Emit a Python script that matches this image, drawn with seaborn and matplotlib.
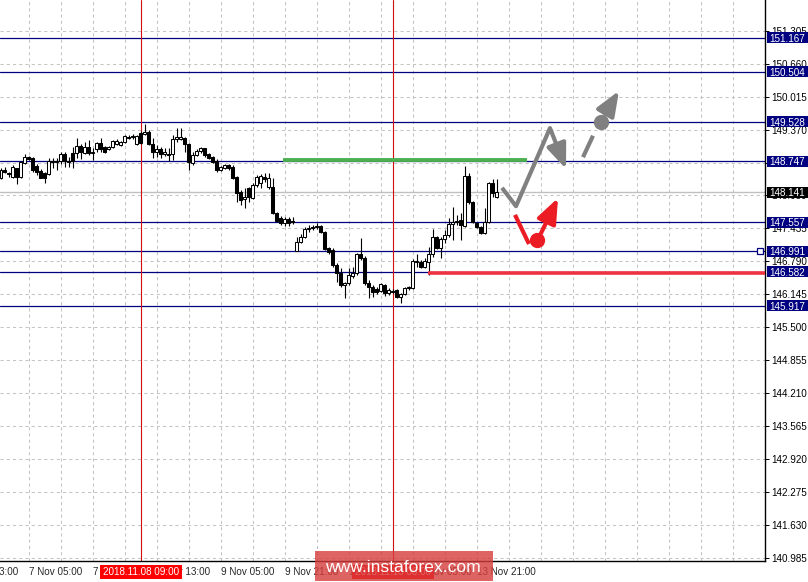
import numpy as np
import pandas as pd
import matplotlib
matplotlib.use("Agg")
import matplotlib.pyplot as plt
import matplotlib.transforms as mtransforms
from matplotlib.patches import Rectangle
import seaborn as sns

# ---------------------------------------------------------------
# H1 candles
# ---------------------------------------------------------------
opens = [148.42, 148.58, 148.52, 148.44, 148.62, 148.44, 148.72, 148.83, 148.81, 148.66,
         148.56, 148.52, 148.50, 148.75, 148.74, 148.75, 148.89, 148.75, 148.91, 148.91,
         149.05, 148.91, 149.03, 148.91, 148.99, 149.11, 149.03, 148.99, 149.03, 149.09,
         149.07, 149.13, 149.23, 149.23, 149.09, 149.30, 149.29, 149.32, 149.09, 148.93,
         148.99, 148.89, 148.89, 148.89, 149.19, 149.19, 149.21, 149.09, 148.72, 148.87,
         148.95, 149.01, 148.89, 148.83, 148.75, 148.58, 148.62, 148.68, 148.64, 148.44,
         148.15, 148.01, 148.23, 148.03, 148.29, 148.32, 148.44, 148.25, 148.25, 147.74,
         147.64, 147.54, 147.62, 147.58, 146.99, 147.17, 147.27, 147.42, 147.44, 147.46,
         147.48, 147.36, 147.05, 147.01, 146.72, 146.56, 146.33, 146.37, 146.50, 146.56,
         146.93, 146.86, 146.37, 146.29, 146.25, 146.21, 146.33, 146.17, 146.21, 146.23,
         146.09, 146.15, 146.27, 146.27, 146.78, 146.78, 146.68, 146.78, 146.93, 147.27,
         147.05, 147.23, 147.31, 147.52, 147.56, 147.60, 147.48, 148.46, 147.95, 147.54,
         147.46, 147.35, 147.56, 148.32, 148.05]
highs = [148.62, 148.64, 148.54, 148.68, 148.62, 148.75, 148.89, 148.85, 148.83, 148.70,
         148.60, 148.54, 148.81, 148.81, 148.81, 148.93, 148.93, 148.83, 149.03, 149.21,
         149.09, 149.13, 149.17, 149.01, 149.13, 149.21, 149.05, 149.05, 149.17, 149.19,
         149.15, 149.27, 149.27, 149.29, 149.27, 149.34, 149.48, 149.36, 149.21, 149.07,
         149.03, 149.01, 149.01, 149.27, 149.40, 149.40, 149.23, 149.11, 148.93, 148.99,
         149.03, 149.01, 148.91, 148.85, 148.79, 148.66, 148.70, 148.70, 148.68, 148.46,
         148.19, 148.23, 148.25, 148.32, 148.48, 148.50, 148.52, 148.52, 148.42, 147.76,
         147.68, 147.66, 147.66, 147.66, 147.27, 147.33, 147.46, 147.50, 147.50, 147.54,
         147.50, 147.38, 147.07, 147.05, 146.76, 146.66, 146.39, 146.66, 146.68, 146.95,
         147.25, 146.89, 146.42, 146.33, 146.29, 146.37, 146.35, 146.27, 146.25, 146.25,
         146.17, 146.29, 146.31, 146.84, 146.93, 146.82, 146.86, 147.07, 147.42, 147.29,
         147.27, 147.40, 147.64, 147.85, 147.70, 147.74, 148.66, 148.52, 147.97, 147.56,
         147.48, 147.84, 148.34, 148.40, 148.40]
lows = [148.40, 148.52, 148.44, 148.42, 148.31, 148.42, 148.70, 148.77, 148.54, 148.48,
        148.42, 148.32, 148.48, 148.62, 148.58, 148.70, 148.64, 148.64, 148.62, 148.81,
        148.79, 148.89, 148.87, 148.77, 148.93, 148.93, 148.91, 148.97, 149.01, 149.07,
        149.05, 149.11, 149.19, 149.19, 149.07, 149.09, 149.27, 149.07, 148.81, 148.83,
        148.81, 148.85, 148.75, 148.77, 149.13, 149.17, 148.93, 148.58, 148.68, 148.85,
        148.91, 148.83, 148.79, 148.72, 148.54, 148.56, 148.60, 148.58, 148.40, 147.95,
        147.89, 147.84, 147.95, 148.01, 148.25, 148.23, 148.34, 148.21, 147.72, 147.56,
        147.50, 147.48, 147.48, 147.52, 146.99, 147.15, 147.25, 147.36, 147.40, 147.42,
        147.35, 147.01, 146.93, 146.68, 146.39, 146.29, 146.07, 146.33, 146.46, 146.52,
        146.82, 146.33, 146.07, 146.09, 146.15, 146.19, 146.11, 146.13, 146.17, 146.07,
        145.97, 146.13, 146.23, 146.25, 146.68, 146.66, 146.66, 146.52, 146.88, 147.03,
        146.86, 147.15, 147.27, 147.21, 147.50, 147.21, 147.46, 147.91, 147.54, 147.44,
        147.33, 147.33, 147.54, 148.05, 148.03]
closes = [148.58, 148.54, 148.50, 148.64, 148.44, 148.74, 148.83, 148.79, 148.58, 148.54,
          148.42, 148.42, 148.75, 148.74, 148.75, 148.89, 148.75, 148.74, 148.75, 149.05,
          148.93, 149.03, 148.91, 148.93, 149.11, 148.99, 148.93, 149.03, 149.15, 149.15,
          149.13, 149.25, 149.21, 149.25, 149.25, 149.11, 149.32, 149.09, 148.93, 148.99,
          148.89, 148.93, 148.87, 149.19, 149.23, 149.23, 149.09, 148.74, 148.87, 148.95,
          149.01, 148.87, 148.81, 148.74, 148.58, 148.64, 148.68, 148.62, 148.42, 148.13,
          147.99, 148.05, 148.05, 148.29, 148.44, 148.46, 148.40, 148.42, 147.74, 147.58,
          147.54, 147.62, 147.54, 147.56, 147.17, 147.27, 147.42, 147.44, 147.46, 147.48,
          147.36, 147.03, 146.97, 146.72, 146.56, 146.33, 146.37, 146.52, 146.56, 146.93,
          146.86, 146.37, 146.29, 146.19, 146.19, 146.35, 146.17, 146.23, 146.19, 146.09,
          146.15, 146.27, 146.29, 146.80, 146.80, 146.68, 146.80, 146.93, 147.27, 147.05,
          147.23, 147.31, 147.52, 147.56, 147.58, 147.50, 148.46, 147.95, 147.56, 147.46,
          147.35, 147.56, 148.32, 148.13, 148.14]

# time axis labels (bar index -> text)
label_bars = [-9, 7, 23, 39, 55, 71, 87, 103, 119]
label_texts = ["6 Nov 13:00", "7 Nov 05:00", "7 Nov 21:00", "8 Nov 13:00", "9 Nov 05:00",
               "9 Nov 21:00", "12 Nov 13:00", "13 Nov 05:00", "13 Nov 21:00"]

# red period separators with their date boxes
sep_bars = [35, 98]
sep_texts = ["2018.11.08 09:00", "2018.11.13 00:00"]

# price scale
y_ticks = [140.985 + 0.645 * k for k in range(17)]

# horizontal levels
levels = [151.167, 150.504, 149.528, 148.747, 147.557, 146.991, 146.582, 145.917]
last_price = 148.141

# target / stop zones
green_level, green_start, green_end = 148.77, 70.5, 131.5
red_level, red_start = 146.57, 106.75

# forecast sketch
gray_path_x = [125.25, 128.75, 137.25]
gray_path_y = [148.23, 147.87, 149.40]
gray_tip = (141.25, 148.60)
gray_dash_x = [145.5, 148.0]
gray_dash_y = [148.83, 149.25]
gray_dot = (150.0, 149.52)
gray_up = [(151.0, 149.68), (154.5, 150.13)]
red_path_x = [128.5, 132.0]
red_path_y = [147.70, 147.13]
red_dot = (134.0, 147.21)
red_up = [(135.0, 147.34), (139.25, 148.03)]

NAVY = "#000080"
GRAY = "#808080"
RED = "#ec1c24"
FS = 7.1

sns.set_style("white")
plt.rcParams["font.family"] = ["Liberation Sans", "DejaVu Sans"]

df = pd.DataFrame({"open": opens, "high": highs, "low": lows, "close": closes})
df["bar"] = np.arange(len(df))
df["up"] = df["close"] >= df["open"]

fig = plt.figure(figsize=(8.08, 5.82), dpi=100)
ax = fig.add_axes([0, 21.3 / 582, 765 / 808, 560.7 / 582])
ax.set_xlim(-0.25, 191)
ax.set_ylim(140.926, 151.909)

# grid
ax.set_xticks(label_bars[1:])
ax.set_xticks(np.arange(7, 191, 8), minor=True)
ax.set_yticks(y_ticks)
ax.set_yticklabels(["{:.3f}".format(v) for v in y_ticks])
ax.grid(True, which="both", color="#c4c4c4", lw=0.75, ls=(0, (3, 3)), zorder=0)
ax.set_axisbelow(True)

ax.yaxis.tick_right()
ax.tick_params(axis="y", length=3, width=0.7, pad=1.5, labelsize=FS, colors="black")
ax.tick_params(axis="x", which="major", length=2, width=0.7, pad=2.5, labelsize=FS)
ax.tick_params(axis="x", which="minor", length=0)
ax.set_xticklabels(label_texts[1:])
for lbl in ax.get_xticklabels():
    lbl.set_ha("left")
# first label falls left of the view
ax.text(label_bars[0], -0.012, label_texts[0], fontsize=FS, ha="left", va="top",
        transform=mtransforms.blended_transform_factory(ax.transData, ax.transAxes),
        clip_on=False)

for side in ["left", "top"]:
    ax.spines[side].set_visible(False)
for side in ["right", "bottom"]:
    ax.spines[side].set_color("black")
    ax.spines[side].set_linewidth(1.0)

# levels
ax.axhline(last_price, color="#c0c0c0", lw=1.0, zorder=1)
for lv in levels:
    ax.axhline(lv, color=NAVY, lw=0.9, zorder=1.5)

# separators
for b in sep_bars:
    ax.axvline(b, color="#d01010", lw=0.8, zorder=1.6)

# candles
ax.vlines(df["bar"], df["low"], df["high"], color="black", lw=0.8, zorder=3)
ax.bar(df["bar"], (df["close"] - df["open"]).abs(),
       bottom=df[["open", "close"]].min(axis=1), width=0.75,
       color=np.where(df["up"], "white", "black"), edgecolor="black",
       linewidth=0.75, zorder=3.5)

# zones
ax.hlines(green_level, green_start, green_end, color="#4caf50", lw=2.8, zorder=4)
ax.hlines(red_level, red_start, 191, color="#ee3340", lw=2.6, zorder=4)

# forecast sketch
head = "-|>,head_length=1.5,head_width=0.6"
ax.plot(gray_path_x, gray_path_y, color=GRAY, lw=3, zorder=5, solid_capstyle="butt")
ax.annotate("", xy=gray_tip, xytext=(gray_path_x[-1], gray_path_y[-1]),
            arrowprops=dict(arrowstyle=head, color=GRAY, lw=3, shrinkA=0, shrinkB=0),
            zorder=5)
ax.plot(gray_dash_x, gray_dash_y, color=GRAY, lw=3, zorder=5, solid_capstyle="butt")
ax.plot(*gray_dot, "o", color=GRAY, ms=10, zorder=5)
ax.annotate("", xy=gray_up[1], xytext=gray_up[0],
            arrowprops=dict(arrowstyle=head, color=GRAY, lw=3, shrinkA=0, shrinkB=0),
            zorder=5)

ax.plot(red_path_x, red_path_y, color=RED, lw=3, zorder=5, solid_capstyle="butt")
ax.plot(*red_dot, "o", color=RED, ms=10, zorder=5)
ax.annotate("", xy=red_up[1], xytext=red_up[0],
            arrowprops=dict(arrowstyle=head, color=RED, lw=3, shrinkA=0, shrinkB=0),
            zorder=5)

# price labels on the right scale
ytrans = mtransforms.blended_transform_factory(ax.transAxes, ax.transData)
px = 0.019588  # price per pixel
for lv, fc in [(v, NAVY) for v in levels] + [(last_price, "black")]:
    ax.add_patch(Rectangle((1 + 1.7 / 765, lv - 5.5 * px), 0.06, 11 * px, transform=ytrans,
                           facecolor=fc, edgecolor="none", clip_on=False, zorder=6))
    ax.text(1 + 4 / 765, lv, "{:.3f}".format(lv), transform=ytrans, color="white",
            fontsize=FS, ha="left", va="center_baseline", clip_on=False, zorder=7)
ax.plot([1 - 5 / 765], [levels[5]], marker="s", ms=4.5, mfc="white", mec=NAVY, mew=0.9,
        transform=ytrans, clip_on=False, zorder=6)

# separator date boxes
xtrans = mtransforms.blended_transform_factory(ax.transData, ax.transAxes)
for b, t in zip(sep_bars, sep_texts):
    ax.add_patch(Rectangle((b - 10.2, -0.032), 20.4, 0.0245, transform=xtrans,
                           facecolor="red", edgecolor="none", clip_on=False, zorder=6))
    ax.text(b, -0.0195, t, transform=xtrans, color="white", fontsize=FS,
            ha="center", va="center", clip_on=False, zorder=7)

# watermark
fig.add_artist(Rectangle((315 / 808, 1 - 581 / 582), 178 / 808, 30 / 582,
                         transform=fig.transFigure, facecolor="#d63d3d", alpha=0.8,
                         edgecolor="none", zorder=10))
fig.text(403 / 808, 1 - 567 / 582, "www.instaforex.com", color="white", fontsize=12.6,
         ha="center", va="center", zorder=11)

fig.savefig("out.png", dpi=100)
